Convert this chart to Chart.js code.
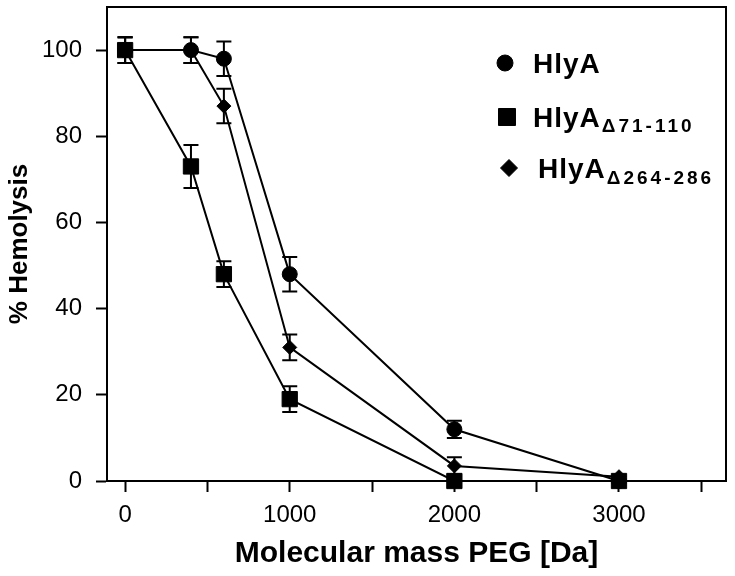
<!DOCTYPE html>
<html>
<head>
<meta charset="utf-8">
<script src="https://cdn.jsdelivr.net/npm/chart.js@4.4.1/dist/chart.umd.min.js"></script>
<style>
  html, body { margin: 0; padding: 0; background: #ffffff; }
  #wrap { width: 735px; height: 576px; position: relative; }
</style>
</head>
<body>
<div id="wrap"><canvas id="c" width="735" height="576"></canvas></div>
<script>
// ---- Data ----
const pegMass = [0, 400, 600, 1000, 2000, 3000];           // Molecular mass PEG [Da]
const hlyA      = [100, 100, 98, 48, 12, 0];                 // HlyA (circles)
const hlyAErr   = [3, 3, 4, 4, 2, 0];
const hlyA71    = [100, 73, 48, 19, 0, 0];                   // HlyA Δ71-110 (squares)
const hlyA71Err = [3, 5, 3, 3, 0, 0];
const hlyA264   = [100, 100, 87, 31, 3.5, 1];                // HlyA Δ264-286 (diamonds)
const hlyA264Err= [3, 3, 4, 3, 2, 0];

const seriesMain = ['HlyA', 'HlyA', 'HlyA'];
const seriesSub  = ['', 'Δ71-110', 'Δ264-286'];

const xTickValues = [0, 500, 1000, 1500, 2000, 2500, 3000, 3500];
const xTickLabels = ['0', '', '1000', '', '2000', '', '3000', ''];
const yTickValues = [0, 20, 40, 60, 80, 100];
const yTickLabels = ['0', '20', '40', '60', '80', '100'];

const xTitle = 'Molecular mass PEG [Da]';
const yTitle = '% Hemolysis';

function pairs(ys) { return pegMass.map((x, i) => ({ x: x, y: ys[i] })); }

// error bar plugin (uses the chart's scales)
const errorBars = {
  id: 'errorBars',
  beforeDatasetsDraw(chart) {
    const { ctx, scales: { x, y } } = chart;
    ctx.save();
    ctx.strokeStyle = '#000';
    ctx.lineWidth = 2;
    chart.data.datasets.forEach(ds => {
      const errs = ds.errors || [];
      ds.data.forEach((p, j) => {
        const e = errs[j];
        if (!e) return;
        const px = x.getPixelForValue(p.x);
        const pt = y.getPixelForValue(p.y + e);
        const pb = y.getPixelForValue(p.y - e);
        const cap = 7.5;
        ctx.beginPath();
        ctx.moveTo(px, pt); ctx.lineTo(px, pb);
        ctx.moveTo(px - cap, pt); ctx.lineTo(px + cap, pt);
        ctx.moveTo(px - cap, pb); ctx.lineTo(px + cap, pb);
        ctx.stroke();
      });
    });
    ctx.restore();
  }
};

// frame (top and right border) plugin
const frame = {
  id: 'frame',
  afterDraw(chart) {
    const { ctx, chartArea: a } = chart;
    ctx.save();
    ctx.strokeStyle = '#000';
    ctx.lineWidth = 2;
    ctx.beginPath();
    ctx.moveTo(a.left, a.top); ctx.lineTo(a.right, a.top); ctx.lineTo(a.right, a.bottom);
    ctx.stroke();
    ctx.restore();
  }
};

// custom legend inside plot (with subscripts)
const legendBox = {
  id: 'legendBox',
  afterDraw(chart) {
    const { ctx } = chart;
    const rows = [
      { mx: 505, my: 63, r: 8, tx: 533, ty: 73, sy: 5 },
      { mx: 507, my: 117, r: 12, tx: 533, ty: 127, sy: 5 },
      { mx: 509, my: 168, r: 8.5, tx: 538, ty: 178, sy: 6 }
    ];
    ctx.save();
    chart.data.datasets.forEach((ds, i) => {
      const r = rows[i];
      ctx.fillStyle = '#000';
      ctx.strokeStyle = '#000';
      ctx.lineWidth = 1;
      Chart.helpers.drawPoint(ctx, { pointStyle: ds.pointStyle, radius: r.r, rotation: 0, borderWidth: 1 }, r.mx, r.my);
      ctx.textBaseline = 'alphabetic';
      ctx.textAlign = 'left';
      ctx.font = 'bold 28px "Liberation Sans", Arial, sans-serif';
      ctx.letterSpacing = '1px';
      ctx.fillText(seriesMain[i], r.tx, r.ty);
      const w = ctx.measureText(seriesMain[i]).width;
      if (seriesSub[i]) {
        ctx.font = 'bold 19px "Liberation Sans", Arial, sans-serif';
        ctx.letterSpacing = '3px';
        ctx.fillText(seriesSub[i], r.tx + w + 1, r.ty + r.sy);
      }
    });
    ctx.restore();
  }
};

const common = {
  borderColor: '#000',
  backgroundColor: '#000',
  pointBackgroundColor: '#000',
  pointBorderColor: '#000',
  borderWidth: 2,
  pointBorderWidth: 1,
  tension: 0,
  clip: false,
  fill: false
};

new Chart(document.getElementById('c'), {
  type: 'line',
  data: {
    datasets: [
      Object.assign({}, common, { label: 'HlyA', data: pairs(hlyA), errors: hlyAErr,
        pointStyle: 'circle', pointRadius: 7.5, order: 1 }),
      Object.assign({}, common, { label: 'HlyA Δ71-110', data: pairs(hlyA71), errors: hlyA71Err,
        pointStyle: 'rect', pointRadius: 10.8, order: 0 }),
      Object.assign({}, common, { label: 'HlyA Δ264-286', data: pairs(hlyA264), errors: hlyA264Err,
        pointStyle: 'rectRot', pointRadius: 7, order: 2 })
    ]
  },
  options: {
    responsive: false,
    animation: false,
    devicePixelRatio: 1,
    layout: { autoPadding: false, padding: { left: 0, right: 9, top: 7, bottom: 0 } },
    plugins: { legend: { display: false }, tooltip: { enabled: false } },
    elements: { point: { hoverRadius: 7.5 } },
    scales: {
      x: {
        type: 'linear',
        min: -110,
        max: 3650,
        afterBuildTicks(scale) { scale.ticks = xTickValues.map(v => ({ value: v })); },
        afterFit(scale) { scale.height = 95; scale.paddingLeft = 0; scale.paddingRight = 0; },
        ticks: {
          color: '#000',
          font: { family: '"Liberation Sans", Arial, sans-serif', size: 24 },
          padding: 9,
          maxRotation: 0,
          autoSkip: false,
          callback(v) { const k = xTickValues.indexOf(v); return k >= 0 ? xTickLabels[k] : ''; }
        },
        grid: { drawOnChartArea: false, drawTicks: true, tickLength: 11, tickColor: '#000', tickWidth: 2 },
        border: { display: true, color: '#000', width: 2 },
        title: {
          display: true, text: xTitle, color: '#000',
          font: { family: '"Liberation Sans", Arial, sans-serif', size: 30, weight: 'bold' },
          padding: { top: 0, bottom: 4 }
        }
      },
      y: {
        type: 'linear',
        min: 0,
        max: 110,
        afterBuildTicks(scale) { scale.ticks = yTickValues.map(v => ({ value: v })); },
        afterFit(scale) { scale.width = 107; scale.paddingTop = 0; scale.paddingBottom = 0; },
        ticks: {
          color: '#000',
          font: { family: '"Liberation Sans", Arial, sans-serif', size: 24 },
          padding: 14,
          autoSkip: false,
          callback(v) { const k = yTickValues.indexOf(v); return k >= 0 ? yTickLabels[k] : ''; }
        },
        grid: { drawOnChartArea: false, drawTicks: true, tickLength: 11, tickColor: '#000', tickWidth: 2 },
        border: { display: true, color: '#000', width: 2 },
        title: {
          display: true, text: yTitle, color: '#000',
          font: { family: '"Liberation Sans", Arial, sans-serif', size: 26, weight: 'bold' },
          padding: { top: 4, bottom: 0 }
        }
      }
    }
  },
  plugins: [errorBars, frame, legendBox]
});
</script>
</body>
</html>
